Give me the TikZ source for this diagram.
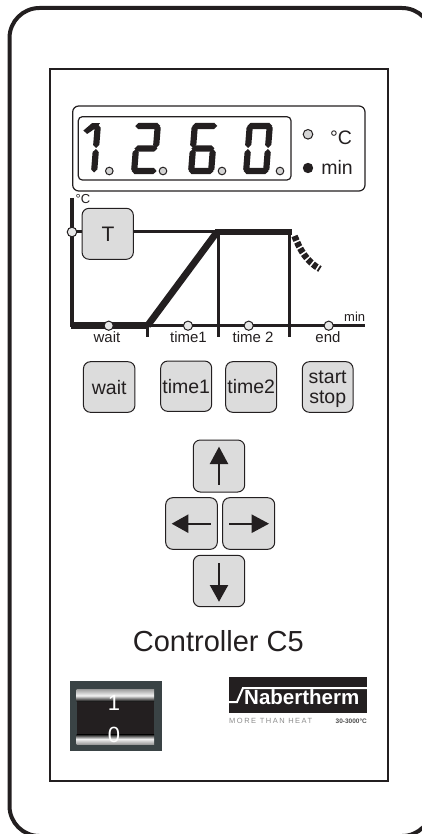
\documentclass[tikz,border=0pt]{standalone}
\usepackage{fontspec}
\setmainfont{Liberation Sans}
\usetikzlibrary{calc}
\definecolor{ink}{HTML}{231F20}
\definecolor{keygray}{HTML}{DCDCDC}
\definecolor{ledgray}{HTML}{D4D4D4}
\definecolor{dotgray}{HTML}{E8E8E8}
\definecolor{slate}{HTML}{3A4345}
\newcommand{\fs}[1]{\fontsize{#1}{#1}\selectfont}
\newcommand{\hw}{3.1}
\newcommand{\hseg}[3]{\fill[ink] (#1,#3) -- ++(\hw,-\hw) -- (#2-\hw,#3-\hw) -- (#2,#3) -- (#2-\hw,#3+\hw) -- (#1+\hw,#3+\hw) -- cycle;}
\newcommand{\vseg}[3]{\fill[ink] (#1,#2) -- ++(\hw,\hw) -- (#1+\hw,#3-\hw) -- (#1,#3) -- (#1-\hw,#3-\hw) -- (#1-\hw,#2+\hw) -- cycle;}
\newcommand{\segA}{\hseg{0.5}{25.5}{3}}
\newcommand{\segG}{\hseg{1.5}{24.5}{25.5}}
\newcommand{\segD}{\hseg{0.5}{25.5}{48}}
\newcommand{\segF}{\vseg{3}{1.5}{25}}
\newcommand{\segB}{\vseg{23}{1.5}{25}}
\newcommand{\segE}{\vseg{3}{26}{49.5}}
\newcommand{\segC}{\vseg{23}{26}{49.5}}
\tikzset{
  x=1pt,y=-1pt,
  key/.style={draw=ink,line width=1,fill=keygray,rounded corners=7},
  led/.style={draw=ink,line width=1,fill=ledgray},
  dot/.style={draw=ink,line width=1,fill=dotgray},
  heavy/.style={ink,line width=6.8},
  medium/.style={ink,line width=3.4},
  shaft/.style={ink,line width=1.7},
  lab/.style={inner sep=0,text=ink,anchor=base},
  keytext/.style={lab,font=\fs{19.5}},
  small/.style={lab,font=\fs{15}},
  tiny/.style={lab,font=\fs{13}},
}
\begin{document}
\begin{tikzpicture}
\useasboundingbox (0,0) rectangle (422,834);
\begin{scope}
\clip (0,0) rectangle (422,834);
\draw[ink,line width=4,rounded corners=30] (9.5,8) rectangle (432,836);
\end{scope}
\draw[ink,line width=2] (50.3,69) rectangle (388.3,780.5);
% display
\draw[ink,line width=1.2,rounded corners=6] (72.7,106) rectangle (365,191);
\draw[ink,line width=1.2,rounded corners=4] (78.3,116.7) rectangle (291,180);
\begin{scope}[shift={(75,123)},xslant=0.08]
\fill[ink] (9,7.5) -- (17,0.2) -- (25,0.2) -- (22,4.5) -- (13,11) -- cycle;
\segB \segC
\end{scope}
\begin{scope}[shift={(135,123)},xslant=0.08]
\segA \segB \segG \segE \segD
\end{scope}
\begin{scope}[shift={(192,123)},xslant=0.08]
\segA \segF \segG \segE \segC \segD
\end{scope}
\begin{scope}[shift={(247,123)},xslant=0.08]
\segA \segB \segC \segD \segE \segF
\end{scope}
\foreach \px in {109.3,163,222,280} \draw[led] (\px,171) circle[radius=3.8];
\draw[led] (308,134.3) circle[radius=4.8];
\fill[ink] (308,168) circle[radius=5.2];
\node[lab,font=\fs{19.5}] at (341,145) {°C};
\node[lab,font=\fs{19.5}] at (337,175) {min};
% chart
\draw[medium] (72,198) -- (72,327.2);
\draw[medium] (72,231.7) -- (217,231.7);
\draw[medium] (147.7,325.7) -- (365,325.7);
\draw[medium] (147.7,325.7) -- (147.7,337);
\draw[medium] (218.7,232) -- (218.7,337);
\draw[medium] (289.7,232) -- (289.7,337);
\draw[heavy] (71,325.7) -- (147.5,325.7);
\draw[heavy] (147.5,325.7) -- (217,232);
\draw[heavy] (215,232) -- (292,232);
\draw[ink,line width=6.5,dash pattern=on 5pt off 1.8pt] (294.5,236) .. controls (300,250) and (307,262) .. (320,269);
\node[key,minimum width=51.3,minimum height=51,inner sep=0] (T) at (107.7,233.8) {};
\node[lab,font=\fs{21}] at (108,241.3) {T};
\draw[dot] (72,232) circle[radius=4.8];
\foreach \px in {108.7,188,248.7,328.7} \draw[dot] (\px,325.7) circle[radius=4.6];
\node[lab,font=\fs{13}] at (83,204) {°C};
\node[small] at (107,342.7) {wait};
\node[small] at (188.5,342.7) {time1};
\node[small] at (253,342.7) {time 2};
\node[small] at (328,342.7) {end};
\node[tiny] at (354.7,321) {min};
% keys
\node[key,minimum width=51.5,minimum height=50.6,inner sep=0] (kwait) at (109.2,387) {};
\node[keytext] at (109.2,394) {wait};
\node[key,minimum width=51,minimum height=50.3,inner sep=0] (ktime1) at (186.2,386.2) {};
\node[keytext] at (186.2,393) {time1};
\node[key,minimum width=51,minimum height=50.6,inner sep=0] (ktime2) at (251.2,387) {};
\node[keytext] at (251.2,393.5) {time2};
\node[key,minimum width=50.7,minimum height=50.6,inner sep=0] (kstart) at (327.7,387) {};
\node[keytext] at (327.7,383.5) {start};
\node[keytext] at (327.7,403.5) {stop};
% arrow keys
\node[key,minimum width=51.4,minimum height=52,inner sep=0] (kup) at (219,466) {};
\node[key,minimum width=51.6,minimum height=51.6,inner sep=0] (kleft) at (191.5,523.5) {};
\node[key,minimum width=52,minimum height=51.6,inner sep=0] (kright) at (248.7,523.5) {};
\node[key,minimum width=51.4,minimum height=51.4,inner sep=0] (kdown) at (219,581) {};
\draw[shaft] (219,464) -- (219,485);
\fill[ink] (219,446.7) -- (228.3,464) -- (209.7,464) -- cycle;
\draw[shaft] (188.3,523.7) -- (211,523.7);
\fill[ink] (171.7,523.7) -- (188.3,514.4) -- (188.3,533) -- cycle;
\draw[shaft] (229,523.7) -- (251.7,523.7);
\fill[ink] (269,523.7) -- (251.7,514.4) -- (251.7,533) -- cycle;
\draw[shaft] (219,563.3) -- (219,585);
\fill[ink] (219,601.7) -- (228.3,585) -- (209.7,585) -- cycle;
% title
\node[lab,font=\fs{29},text=ink] at (218.3,651.7) {Controller C5};
% switch
\fill[slate] (70,681) rectangle (161.7,751.3);
\fill[ink] (76.7,689.3) rectangle (154,744);
\shade[top color=gray!75,bottom color=black,middle color=white!90!gray] (76.7,689.3) rectangle (154,701.7);
\shade[top color=black,bottom color=gray!75,middle color=white!90!gray] (76.7,734) rectangle (154,744);
\node[lab,font=\fs{22},text=white] at (114,710) {1};
\node[lab,font=\fs{22},text=white] at (114,742.3) {0};
% logo
\fill[ink] (229,677) rectangle (367,712.5);
\draw[white,line width=2] (229,702) -- (237,702) -- (243,688) -- (367,688);
\node[lab,font=\bfseries\fs{20.5},text=white,anchor=base west] at (244,704.5) {Nabertherm};
\node[lab,font={\fs{7.5}\addfontfeature{LetterSpace=20}},text=black!45,anchor=base west] at (229,723.5) {MORE THAN HEAT};
\node[lab,font=\bfseries\fs{6.5},text=black!70,anchor=base east] at (367,723.5) {30-3000°C};
\end{tikzpicture}
\end{document}
